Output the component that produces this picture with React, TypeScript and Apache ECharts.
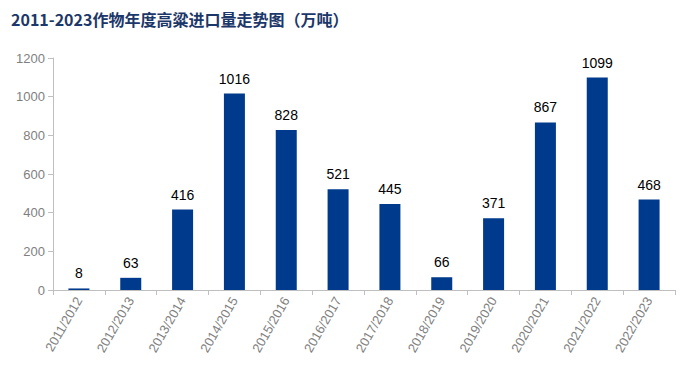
import React, { useEffect, useRef } from "react";
import * as echarts from "echarts";

const categories = ["2011/2012","2012/2013","2013/2014","2014/2015","2015/2016","2016/2017","2017/2018","2018/2019","2019/2020","2020/2021","2021/2022","2022/2023"];
const values = [8, 63, 416, 1016, 828, 521, 445, 66, 371, 867, 1099, 468];
const title = "2011-2023作物年度高粱进口量走势图（万吨）";

export default function App() {
  const ref = useRef<HTMLDivElement>(null);
  useEffect(() => {
    const chart = echarts.init(ref.current!, null, { renderer: "svg" });
    chart.setOption({
      animation: false,
      backgroundColor: "#fff",
      title: {
        text: title,
        left: 6,
        top: 6,
        textStyle: { fontSize: 16, fontWeight: "bold", color: "#1C3769", fontFamily: "Noto Sans CJK SC" },
      },
      grid: { left: 53, right: 25, top: 58, bottom: 85, containLabel: false },
      xAxis: {
        type: "category",
        data: categories,
        axisLine: { lineStyle: { color: "#BFBFBF" } },
        axisTick: { show: true, alignWithLabel: false, lineStyle: { color: "#BFBFBF" } },
        axisLabel: { rotate: 60, color: "#7F7F7F", fontSize: 13, fontFamily: "Liberation Sans", margin: 8, interval: 0 },
      },
      yAxis: {
        type: "value",
        min: 0,
        max: 1200,
        interval: 200,
        axisLine: { show: true, lineStyle: { color: "#BFBFBF" } },
        axisTick: { show: true, lineStyle: { color: "#BFBFBF" } },
        splitLine: { show: false },
        axisLabel: { color: "#7F7F7F", fontSize: 13, fontFamily: "Liberation Sans", margin: 8, formatter: (v: number) => String(v) },
      },
      series: [
        {
          type: "bar",
          data: values,
          barWidth: 21,
          itemStyle: { color: "#003A8C" },
          label: { show: true, position: "top", color: "#000", fontSize: 14, fontFamily: "Liberation Sans", distance: 8 },
        },
      ],
    });
    return () => chart.dispose();
  }, []);
  return <div ref={ref} style={{ width: 700, height: 375, position: "absolute", left: 0, top: 0 }} />;
}
